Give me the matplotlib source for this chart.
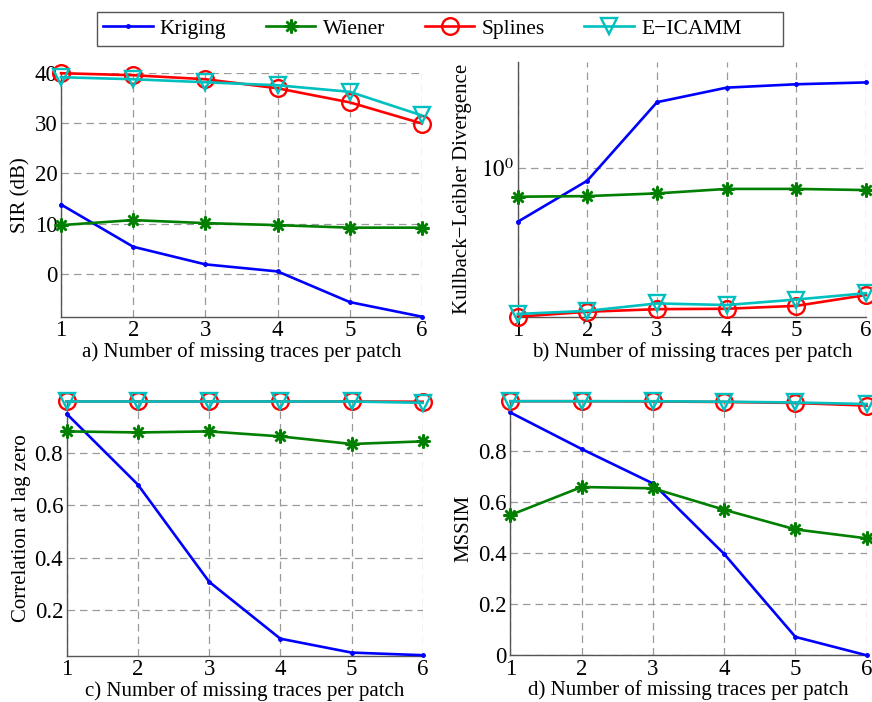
import matplotlib
matplotlib.use("Agg")
import matplotlib.pyplot as plt
from matplotlib.lines import Line2D
from matplotlib.patches import Rectangle

plt.rcParams['font.family'] = ['Liberation Serif', 'DejaVu Serif']
plt.rcParams['mathtext.fontset'] = 'stix'

x = [1, 2, 3, 4, 5, 6]
methods = ['Kriging', 'Wiener', 'Splines', 'E−ICAMM']

# a) SIR (dB)
sir_kriging = [13.8, 5.4, 1.9, 0.5, -5.6, -8.5]
sir_wiener = [9.7, 10.7, 10.1, 9.7, 9.2, 9.2]
sir_splines = [39.9, 39.5, 38.7, 36.9, 34.1, 29.9]
sir_eicamm = [39.1, 38.7, 38.1, 37.5, 36.2, 31.5]

# b) Kullback-Leibler divergence
kl_kriging = [0.56, 0.875, 2.05, 2.40, 2.49, 2.54]
kl_wiener = [0.735, 0.74, 0.762, 0.80, 0.80, 0.79]
kl_splines = [0.200, 0.211, 0.217, 0.218, 0.225, 0.253]
kl_eicamm = [0.206, 0.213, 0.231, 0.227, 0.241, 0.258]

# c) Correlation at lag zero
cor_kriging = [0.948, 0.678, 0.308, 0.091, 0.038, 0.028]
cor_wiener = [0.881, 0.877, 0.881, 0.862, 0.833, 0.843]
cor_splines = [0.995, 0.995, 0.995, 0.995, 0.995, 0.994]
cor_eicamm = [0.995, 0.995, 0.995, 0.995, 0.995, 0.990]

# d) MSSIM
ms_kriging = [0.951, 0.808, 0.673, 0.397, 0.072, 0.0]
ms_wiener = [0.549, 0.659, 0.654, 0.570, 0.493, 0.458]
ms_splines = [0.995, 0.995, 0.994, 0.992, 0.988, 0.978]
ms_eicamm = [0.995, 0.995, 0.995, 0.993, 0.990, 0.984]

colors = ['#0000ff', '#007f00', '#ff0000', '#00bfbf']
styles = [dict(marker='.', markersize=5),
          dict(marker=(8, 2, 0), markersize=10, markeredgewidth=1.8),
          dict(marker='o', markersize=12, markerfacecolor='none', markeredgewidth=1.7),
          dict(marker='v', markersize=12, markerfacecolor='none', markeredgewidth=1.7)]

W, H = 872, 702
fig = plt.figure(figsize=(W / 100, H / 100), dpi=100)

def add_ax(l, r, t, b):
    return fig.add_axes([l / W, 1 - b / H, (r - l) / W, (b - t) / H])

axa = add_ax(61, 422, 72.7, 316.7)
axb = add_ax(517.7, 866, 61.7, 316.7)
axc = add_ax(66.7, 422.7, 400.7, 656)
axd = add_ax(510.3, 866.7, 400.7, 655.3)

panels = [
    (axa, [sir_kriging, sir_wiener, sir_splines, sir_eicamm], 'SIR (dB)',
     'a) Number of missing traces per patch', 30, 61, 361, 244),
    (axb, [kl_kriging, kl_wiener, kl_splines, kl_eicamm], 'Kullback−Leibler Divergence',
     'b) Number of missing traces per patch', 472, 517.7, 348.3, 255),
    (axc, [cor_kriging, cor_wiener, cor_splines, cor_eicamm], 'Correlation at lag zero',
     'c) Number of missing traces per patch', 31, 66.7, 356, 255.3),
    (axd, [ms_kriging, ms_wiener, ms_splines, ms_eicamm], 'MSSIM',
     'd) Number of missing traces per patch', 473, 510.3, 356.4, 254.6),
]

fs = 15
tfs = 16.5
for ax, series, ylab, xlab, yl_px, ax_l, ax_w, ax_h in panels:
    for s, c, st in zip(series, colors, styles):
        ax.plot(x, s, color=c, linewidth=1.9, clip_on=False, zorder=3, **st)
    ax.set_xlim(1, 6)
    ax.set_xticks(x)
    ax.set_xlabel(xlab, fontsize=fs)
    ax.set_ylabel(ylab, fontsize=fs)
    ax.xaxis.set_label_coords(0.5, -25 / ax_h)
    ax.yaxis.set_label_coords((yl_px - ax_l) / ax_w, 0.5)
    ax.tick_params(axis='x', length=0, labelsize=tfs, pad=2.5)
    ax.tick_params(axis='y', length=0, labelsize=tfs, pad=2.5)
    ax.grid(True, color='#9a9a9a', linestyle=(0, (6, 4)), linewidth=0.9)
    ax.set_axisbelow(True)
    for sp in ['top', 'right']:
        ax.spines[sp].set_visible(False)
    for sp in ['left', 'bottom']:
        ax.spines[sp].set_color('#555555')
        ax.spines[sp].set_linewidth(1.0)

axa.set_ylim(-8.5, 40)
axa.set_yticks([0, 10, 20, 30, 40])

axb.set_yscale('log')
axb.set_ylim(0.2, 3.18)
axb.set_yticks([1])
axb.set_yticklabels([r'$10^0$'])
axb.minorticks_off()

axc.set_ylim(0.025, 0.998)
axc.set_yticks([0.2, 0.4, 0.6, 0.8])
axc.set_yticklabels(['0.2', '0.4', '0.6', '0.8'])

axd.set_ylim(0, 0.997)
axd.set_yticks([0, 0.2, 0.4, 0.6, 0.8])
axd.set_yticklabels(['0', '0.2', '0.4', '0.6', '0.8'])

# legend box (MATLAB-style, wider than its content)
fig.patches.append(Rectangle((97 / W, 1 - 45.5 / H), (783 - 97) / W, 33.5 / H,
                             transform=fig.transFigure, facecolor='white',
                             edgecolor='#555555', linewidth=1.0, zorder=0))
handles = [Line2D([], [], color=c, linewidth=1.9, **st) for c, st in zip(colors, styles)]
leg = fig.legend(handles, methods, loc='center left', bbox_to_anchor=(103 / W, 1 - 28.5 / H),
                 ncol=4, fontsize=15.5, frameon=False, borderaxespad=0, borderpad=0,
                 handlelength=2.3, columnspacing=1.85, handletextpad=0.33)

fig.savefig('out.png', dpi=100)
